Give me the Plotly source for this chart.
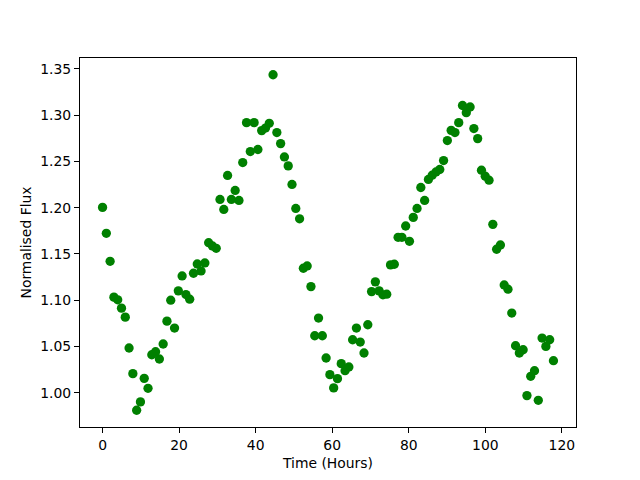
import plotly.graph_objects as go

hours = [0, 0.99, 1.98, 2.97, 3.96, 4.95, 5.94, 6.93, 7.92, 8.91,
         9.9, 10.89, 11.88, 12.87, 13.86, 14.85, 15.84, 16.83, 17.82, 18.81,
         19.8, 20.79, 21.78, 22.77, 23.76, 24.75, 25.74, 26.73, 27.72, 28.71,
         29.7, 30.69, 31.68, 32.67, 33.66, 34.65, 35.64, 36.63, 37.62, 38.61,
         39.6, 40.59, 41.58, 42.57, 43.56, 44.55, 45.54, 46.53, 47.52, 48.51,
         49.5, 50.49, 51.48, 52.47, 53.46, 54.45, 55.44, 56.43, 57.42, 58.41,
         59.4, 60.39, 61.38, 62.37, 63.36, 64.35, 65.34, 66.33, 67.32, 68.31,
         69.3, 70.29, 71.28, 72.27, 73.26, 74.25, 75.24, 76.23, 77.22, 78.21,
         79.2, 80.19, 81.18, 82.17, 83.16, 84.15, 85.14, 86.13, 87.12, 88.11,
         89.1, 90.09, 91.08, 92.07, 93.06, 94.05, 95.04, 96.03, 97.02, 98.01,
         99.0, 99.99, 100.98, 101.97, 102.96, 103.95, 104.94, 105.93, 106.92, 107.91,
         108.9, 109.89, 110.88, 111.87, 112.86, 113.85, 114.84, 115.83, 116.82, 117.81]

flux = [1.2003, 1.1723, 1.1421, 1.1034, 1.1005, 1.0915, 1.0818, 1.0485, 1.0208, 0.9813,
        0.9903, 1.0157, 1.0050, 1.0412, 1.0445, 1.0366, 1.0528, 1.0775, 1.1001, 1.0700,
        1.1102, 1.1263, 1.1062, 1.1012, 1.1292, 1.1392, 1.1317, 1.1403, 1.1622, 1.1586,
        1.1561, 1.2089, 1.1981, 1.2348, 1.2089, 1.2186, 1.2078, 1.2487, 1.2918, 1.2606,
        1.2918, 1.2628, 1.2832, 1.2860, 1.2911, 1.3435, 1.2811, 1.2692, 1.2548, 1.2451,
        1.2251, 1.1992, 1.1880, 1.1346, 1.1371, 1.1148, 1.0617, 1.0808, 1.0617, 1.0377,
        1.0197, 1.0054, 1.0154, 1.0316, 1.0240, 1.0280, 1.0574, 1.0700, 1.0549, 1.0431,
        1.0736, 1.1094, 1.1199, 1.1102, 1.1059, 1.1066, 1.1382, 1.1389, 1.1680, 1.1680,
        1.1802, 1.1637, 1.1895, 1.1992, 1.2218, 1.2078, 1.2305, 1.2351, 1.2386, 1.2412,
        1.2509, 1.2725, 1.2835, 1.2811, 1.2918, 1.3103, 1.3026, 1.3087, 1.2854, 1.2746,
        1.2405, 1.2340, 1.2297, 1.1820, 1.1551, 1.1597, 1.1166, 1.1120, 1.0862, 1.0509,
        1.0431, 1.0466, 0.9971, 1.0179, 1.0240, 0.9920, 1.0592, 1.0502, 1.0574, 1.0348]

x_ticks = [0, 20, 40, 60, 80, 100, 120]
y_ticks = [1.00, 1.05, 1.10, 1.15, 1.20, 1.25, 1.30, 1.35]

x_title = "Time (Hours)"
y_title = "Normalised Flux"

fig = go.Figure(go.Scatter(
    x=hours, y=flux, mode="markers",
    marker=dict(color="#008000", size=9.3, line=dict(width=0)),
    showlegend=False,
))

xmin, xmax = min(hours), max(hours)
ymin, ymax = min(flux), max(flux)
xpad = 0.05 * (xmax - xmin)
ypad = 0.05 * (ymax - ymin)

font = dict(family="DejaVu Sans", size=13.9, color="black")

axis_common = dict(
    showline=True, linecolor="black", linewidth=1, mirror=True,
    ticks="outside", ticklen=5, tickwidth=1, tickcolor="black",
    showgrid=False, zeroline=False, tickfont=font,
)

fig.update_layout(
    width=640, height=480,
    margin=dict(l=80, r=64, t=58, b=53),
    paper_bgcolor="white", plot_bgcolor="white",
    font=font,
    xaxis=dict(range=[xmin - xpad, xmax + xpad], tickvals=x_ticks,
               ticktext=[str(v) for v in x_ticks],
               title=dict(text=x_title, font=font, standoff=6), **axis_common),
    yaxis=dict(range=[ymin - ypad, ymax + ypad], tickvals=y_ticks,
               ticktext=[f"{v:.2f}" for v in y_ticks],
               title=dict(text=y_title, font=font, standoff=5), **axis_common),
)

fig.write_html(
    "out.html",
    config={"displayModeBar": False, "staticPlot": True},
    post_script="document.body.style.margin='0px';document.body.style.overflow='hidden';",
)
